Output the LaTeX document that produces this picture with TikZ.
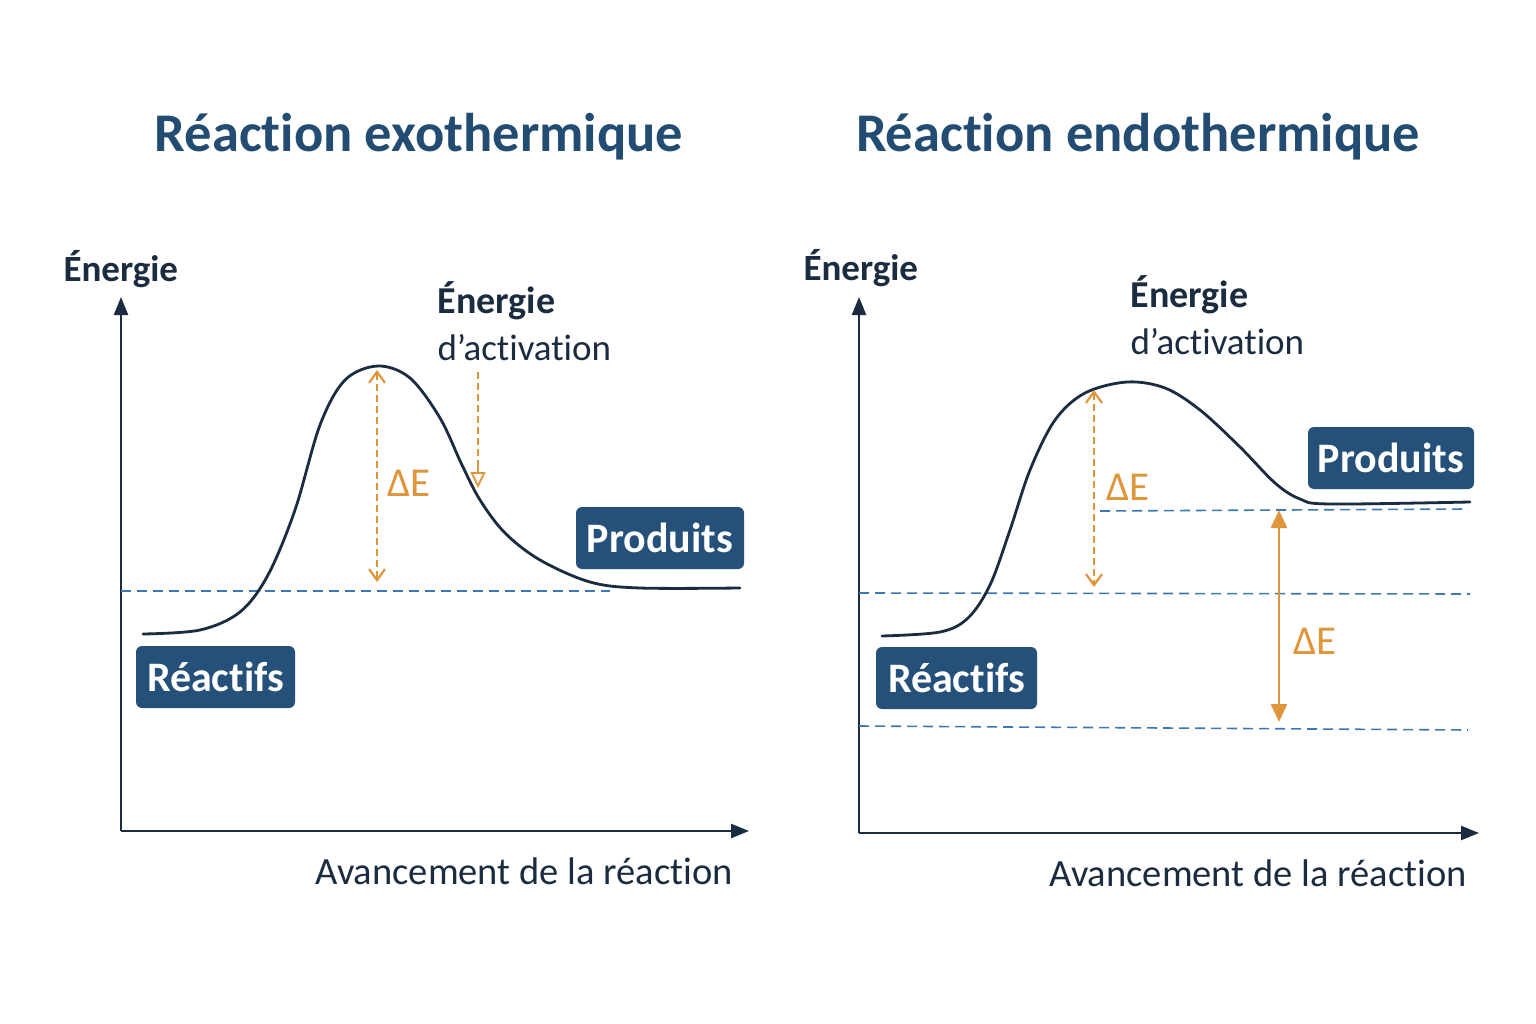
\documentclass[tikz,border=0pt]{standalone}
\usepackage{fontspec}
\setmainfont{Carlito}[Ligatures={NoCommon,NoDiscretionary}]
\usetikzlibrary{arrows.meta}
\definecolor{navy}{HTML}{1B2B40}
\definecolor{titleblue}{HTML}{234C73}
\definecolor{boxblue}{HTML}{24507A}
\definecolor{orangeA}{HTML}{DF963B}
\definecolor{dashblue}{HTML}{3B78B4}
\tikzset{
  axis/.style={navy, line width=2.4pt, -{Triangle[length=18pt,width=14pt]}},
  curve/.style={navy, line width=2.8pt, line cap=round},
  guide/.style={dashblue, line width=1.6pt, dash pattern=on 10pt off 6pt},
  tag/.style={fill=boxblue, rounded corners=6pt, text=white, font=\bfseries\fontsize{42}{46}\selectfont, inner sep=0pt, minimum height=62pt},
  titletext/.style={text=titleblue, font=\bfseries\fontsize{54.5}{60}\selectfont, anchor=base},
  axlabel/.style={text=navy, font=\bfseries\fontsize{37}{42}\selectfont, anchor=base west},
  actlabel/.style={text=navy, font=\bfseries\fontsize{38}{42}\selectfont, anchor=base west},
  actsub/.style={text=navy, font=\fontsize{37}{42}\selectfont, anchor=base west},
  xlabel/.style={text=navy, font=\fontsize{38.5}{42}\selectfont, anchor=base east},
  delta/.style={text=orangeA, font=\fontsize{41}{44}\selectfont, anchor=base west},
  dashedarrow/.style={orangeA, line width=2.2pt, dash pattern=on 7pt off 4pt, {Straight Barb[length=11pt,width=16pt,line width=2.2pt]}-{Straight Barb[length=11pt,width=16pt,line width=2.2pt]}},
  solidarrow/.style={orangeA, line width=2.4pt, {Triangle[length=18pt,width=16pt]}-{Triangle[length=18pt,width=16pt]}},
}
\begin{document}
\begin{tikzpicture}[x=1pt,y=-1pt]
\useasboundingbox (0,0) rectangle (1536,1024);
\fill[white] (0,0) rectangle (1536,1024);

% ===== Left panel: exothermic =====
\node[titletext] (t1) at (419,152) {Réaction exothermique};
\node[axlabel] (e1) at (60,281) {Énergie};
\coordinate (o1) at (121,831);
\coordinate (ytop1) at (121,297);
\coordinate (xend1) at (749,831);
\draw[axis] (o1) -- (ytop1);
\draw[axis] (o1) -- (xend1);
\node[xlabel] (x1) at (736,884) {Avancement de la réaction};

\coordinate (g1a) at (121,591);
\coordinate (g1b) at (610,591);
\draw[guide] (g1a) -- (g1b);

\draw[curve] plot[smooth, tension=0.55] coordinates {(143,634) (200,630) (240,612) (268,575) (295,510) (320,425) (345,380) (378,366) (410,378) (440,418) (462,465) (480,500) (505,533) (540,560) (590,582) (640,588) (740,588)};

\coordinate (da1) at (377,370);
\coordinate (db1) at (377,582);
\draw[dashedarrow] (da1) -- (db1);
\node[delta] (d1) at (384,496) {ΔE};

\coordinate (pa1) at (478,372);
\coordinate (pm1) at (478,465);
\coordinate (pb1) at (478,488);
\draw[orangeA, line width=1.8pt, dash pattern=on 7pt off 4pt] (pa1) -- (pm1);
\draw[orangeA, line width=1.8pt, -{Triangle[open,length=16pt,width=15pt,line width=1.8pt]}] (pm1) -- (pb1);

\node[actlabel] (ea1) at (434,313) {Énergie};
\node[actsub] (ac1) at (434,360) {d’activation};

\node[tag, minimum width=168pt] (p1) at (660,538) {Produits};
\node[tag, minimum width=159pt] (r1) at (215.5,677) {Réactifs};

% ===== Right panel: endothermic =====
\node[titletext] (t2) at (1138,152) {Réaction endothermique};
\node[axlabel] (e2) at (800,280) {Énergie};
\coordinate (o2) at (859,833);
\coordinate (ytop2) at (859,297);
\coordinate (xend2) at (1479,833);
\draw[axis] (o2) -- (ytop2);
\draw[axis] (o2) -- (xend2);
\node[xlabel] (x2) at (1470,886) {Avancement de la réaction};

\coordinate (g2a) at (1100,511);
\coordinate (g2b) at (1468,509);
\coordinate (g2c) at (859,593);
\coordinate (g2d) at (1470,594);
\coordinate (g2e) at (859,726);
\coordinate (g2f) at (1468,730);
\draw[guide] (g2a) -- (g2b);
\draw[guide] (g2c) -- (g2d);
\draw[guide] (g2e) -- (g2f);

\draw[curve] plot[smooth, tension=0.55] coordinates {(882,636) (940,632) (968,618) (990,585) (1010,530) (1030,470) (1055,420) (1085,393) (1127,382) (1165,388) (1200,410) (1240,447) (1275,483) (1300,499) (1330,504) (1470,502)};

\coordinate (da2) at (1094,390);
\coordinate (db2) at (1094,587);
\draw[dashedarrow] (da2) -- (db2);
\node[delta] (d2) at (1103,500) {ΔE};

\coordinate (sa2) at (1279,510);
\coordinate (sb2) at (1279,722);
\draw[solidarrow] (sa2) -- (sb2);
\node[delta] (d3) at (1290,654) {ΔE};

\node[actlabel] (ea2) at (1127,307) {Énergie};
\node[actsub] (ac2) at (1127,354) {d’activation};

\node[tag, minimum width=166pt] (p2) at (1391,458) {Produits};
\node[tag, minimum width=161pt] (r2) at (956.5,678) {Réactifs};
\end{tikzpicture}
\end{document}
